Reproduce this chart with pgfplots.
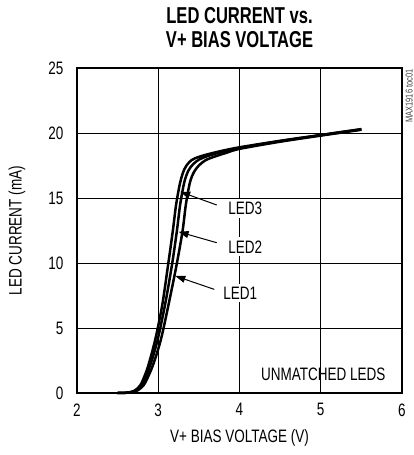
\documentclass[border=0pt]{standalone}
\usepackage{fontspec}
\setmainfont{Liberation Sans}[FakeStretch=0.75]
\newfontfamily\titlefont{Liberation Sans}[FakeStretch=0.72]
\usepackage{pgfplots}
\pgfplotsset{compat=1.18}
\usetikzlibrary{arrows.meta}
\begin{document}
\begin{tikzpicture}
\useasboundingbox (-77pt,-62pt) rectangle (337pt,393pt);
\begin{axis}[
  at={(0,0)}, anchor=south west,
  scale only axis, width=325pt, height=325pt,
  xmin=2, xmax=6, ymin=0, ymax=25,
  xtick={2,3,4,5,6}, ytick={0,5,10,15,20,25},
  grid=major, major grid style={black, line width=0.7pt},
  axis line style={line width=2pt},
  tick style={draw=none},
  /pgf/number format/assume math mode=true,
  ticklabel style={font=\fontsize{18}{20}\selectfont},
  xticklabel style={yshift=-7pt},
  yticklabel style={xshift=-10pt},
  clip=false,
]
% LED3
\addplot[black, line width=2.5pt, smooth] coordinates {
(2.5,0) (2.6,0.02) (2.7,0.15) (2.78,0.6) (2.85,1.6) (2.9,2.6) (2.97,4.3) (3.05,6.8) (3.12,9.8) (3.18,12.5) (3.22,14.5) (3.27,16.2) (3.32,17.2) (3.38,17.75) (3.45,18.05) (3.6,18.35) (3.8,18.65) (4.0,18.9) (4.5,19.4) (5.0,19.85) (5.5,20.3)};
% LED2
\addplot[black, line width=2.5pt, smooth] coordinates {
(2.5,0) (2.6,0.02) (2.7,0.12) (2.8,0.6) (2.87,1.6) (2.93,2.7) (3.0,4.3) (3.09,7.0) (3.17,9.9) (3.23,12.5) (3.27,14.5) (3.32,16.2) (3.37,17.1) (3.43,17.6) (3.5,17.95) (3.62,18.25) (3.8,18.57) (4.0,18.85) (4.5,19.37) (5.0,19.83) (5.5,20.28)};
% LED1
\addplot[black, line width=2.5pt, smooth] coordinates {
(2.5,0) (2.6,0.02) (2.72,0.12) (2.82,0.6) (2.9,1.6) (2.96,2.6) (3.04,4.3) (3.14,7.2) (3.23,10.0) (3.3,12.5) (3.34,14.5) (3.39,16.2) (3.44,17.0) (3.5,17.5) (3.58,17.9) (3.7,18.2) (3.85,18.5) (4.0,18.78) (4.5,19.33) (5.0,19.8) (5.5,20.25)};
% labels
\node[fill=white, inner xsep=14pt, inner ysep=3pt, font=\fontsize{18}{20}\selectfont] at (axis cs:4.07,14.2) {LED3};
\node[fill=white, inner xsep=2pt, inner ysep=3pt, font=\fontsize{18}{20}\selectfont] at (axis cs:4.07,11.25) {LED2};
\node[fill=white, inner xsep=2pt, inner ysep=3pt, font=\fontsize{18}{20}\selectfont] at (axis cs:4.01,7.7) {LED1};
\draw[line width=1pt, -{Triangle[length=10pt,width=7pt]}] (axis cs:3.72,14.46) -- (axis cs:3.27,15.48);
\draw[line width=1pt, -{Triangle[length=10pt,width=7pt]}] (axis cs:3.72,11.56) -- (axis cs:3.25,12.4);
\draw[line width=1pt, -{Triangle[length=10pt,width=7pt]}] (axis cs:3.69,7.97) -- (axis cs:3.21,9.0);
\node[anchor=east, font=\fontsize{18}{20}\selectfont] at (axis cs:5.84,1.4) {UNMATCHED LEDS};
% axis labels
\node[font=\fontsize{18}{20}\selectfont] at (axis description cs:0.5,-0.138) {V+ BIAS VOLTAGE (V)};
\node[rotate=90, font=\fontsize{18}{20}\selectfont] at (axis description cs:-0.185,0.5) {LED CURRENT (mA)};
% title
\node[font=\titlefont\bfseries\fontsize{23}{26}\selectfont] at (axis description cs:0.5,1.16) {LED CURRENT vs.};
\node[font=\titlefont\bfseries\fontsize{23}{26}\selectfont] at (axis description cs:0.5,1.086) {V+ BIAS VOLTAGE};
\node[rotate=90, font=\fontsize{10}{11}\selectfont, text=black!75] at (axis description cs:1.022,0.914) {MAX1916 toc01};
\end{axis}
\end{tikzpicture}
\end{document}
